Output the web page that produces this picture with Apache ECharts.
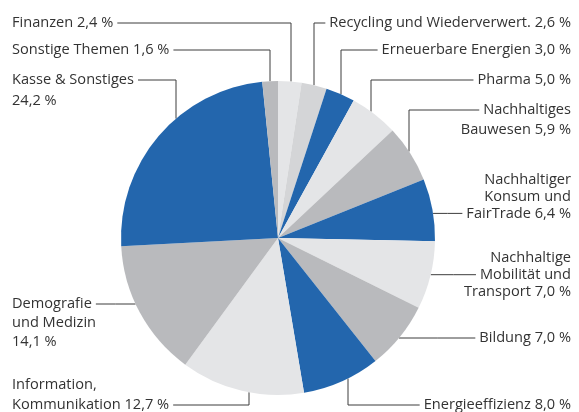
<!DOCTYPE html>
<html>
<head>
<meta charset="utf-8">
<script src="https://cdn.jsdelivr.net/npm/echarts@6/dist/echarts.min.js"></script>
<style>
  html, body { margin: 0; padding: 0; background: #fff; }
  #chart { width: 579px; height: 412px; }
</style>
</head>
<body>
<div id="chart"></div>
<script>
// Anteile der Themen (Prozent), im Uhrzeigersinn ab 12 Uhr
const categories = [
  'Finanzen',
  'Recycling und Wiederverwert.',
  'Erneuerbare Energien',
  'Pharma',
  'Nachhaltiges\nBauwesen',
  'Nachhaltiger\nKonsum und\nFairTrade',
  'Nachhaltige\nMobilität und\nTransport',
  'Bildung',
  'Energieeffizienz',
  'Information,\nKommunikation',
  'Demografie\nund Medizin',
  'Kasse & Sonstiges',
  'Sonstige Themen'
]
const shares = [2.4, 2.6, 3.0, 5.0, 5.9, 6.4, 7.0, 7.0, 8.0, 12.7, 14.1, 24.2, 1.6]

const BLUE = '#2366ad'
const GRAY = '#b9babd'
const LIGHT = '#e4e5e7'
const MID = '#d4d5d7'
const sliceColors = [LIGHT, MID, BLUE, LIGHT, GRAY, BLUE, LIGHT, GRAY, BLUE, LIGHT, GRAY, BLUE, GRAY]

// Lage der Beschriftungen: side = Seite, ty = Mitte der ersten Zeile, lh = Zeilenhöhe,
// li = Zeile, an die die Linie anschließt, ax = x der senkrechten Linie (null = waagerecht),
// br = Wert in neuer Zeile
const CX = 278
const CY = 238
const R = 157
const FONT_SIZE = 14.6
const FONT_FAMILY = 'Open Sans'
const labelSpots = [
  { side: 'l', ty: 23, lh: 20, li: 0, ax: 291 },
  { side: 'r', ty: 23, lh: 20, li: 0, ax: 314 },
  { side: 'r', ty: 50, lh: 20, li: 0, ax: 341 },
  { side: 'r', ty: 80, lh: 20, li: 0, ax: 371 },
  { side: 'r', ty: 110, lh: 20, li: 0, ax: 409 },
  { side: 'r', ty: 180, lh: 16.7, li: 2, ax: null },
  { side: 'r', ty: 258, lh: 16.7, li: 1, ax: null },
  { side: 'r', ty: 338, lh: 20, li: 0, ax: null },
  { side: 'r', ty: 405, lh: 20, li: 0, ax: 348 },
  { side: 'l', ty: 385, lh: 20, li: 1, ax: 249 },
  { side: 'l', ty: 304, lh: 19, li: 0, ax: null, br: true },
  { side: 'l', ty: 80, lh: 21, li: 0, ax: 176, br: true },
  { side: 'l', ty: 50, lh: 20, li: 0, ax: 270 }
]

const fmt = v => v.toFixed(1).replace('.', ',') + ' %'
const labelText = i => categories[i] + (labelSpots[i].br ? '\n' : ' ') + fmt(shares[i])

const ctx = document.createElement('canvas').getContext('2d')
ctx.font = FONT_SIZE + 'px "' + FONT_FAMILY + '"'

let myChart = echarts.init(document.getElementById('chart'))
myChart.setOption({
  backgroundColor: '#fff',
  animation: false,
  series: [{
    type: 'pie',
    center: [CX, CY],
    radius: R,
    startAngle: 90,
    clockwise: true,
    avoidLabelOverlap: false,
    emphasis: { disabled: true },
    itemStyle: { borderWidth: 0 },
    label: {
      show: true,
      position: 'outside',
      color: '#333',
      fontSize: FONT_SIZE,
      fontFamily: FONT_FAMILY,
      formatter (p) {
        return labelText(p.dataIndex)
      }
    },
    labelLine: {
      show: true,
      lineStyle: { color: '#3d3d3d', width: 1 }
    },
    labelLayout (p) {
      const s = labelSpots[p.dataIndex]
      const lines = labelText(p.dataIndex).split('\n')
      const w = ctx.measureText(lines[s.li]).width
      const x = s.side === 'l' ? 12 : 571
      const ly = s.ty + s.li * s.lh
      const edge = s.side === 'l' ? x + w + 4 : x - w - 4
      let pts
      if (s.ax !== null) {
        const d = Math.sqrt(R * R - (s.ax - CX) * (s.ax - CX))
        const py = ly < CY ? CY - d : CY + d
        pts = [[s.ax, py], [s.ax, ly], [edge, ly]]
      } else {
        const d = Math.sqrt(R * R - (ly - CY) * (ly - CY))
        const px = s.side === 'l' ? CX - d : CX + d
        pts = [[px, ly], [(px + edge) / 2, ly], [edge, ly]]
      }
      return {
        x: x,
        y: s.ty - s.lh / 2,
        align: s.side === 'l' ? 'left' : 'right',
        verticalAlign: 'top',
        labelLinePoints: pts
      }
    },
    data: shares.map((v, i) => ({
      name: categories[i],
      value: v,
      itemStyle: { color: sliceColors[i] },
      label: { lineHeight: labelSpots[i].lh }
    }))
  }]
})
</script>
</body>
</html>
